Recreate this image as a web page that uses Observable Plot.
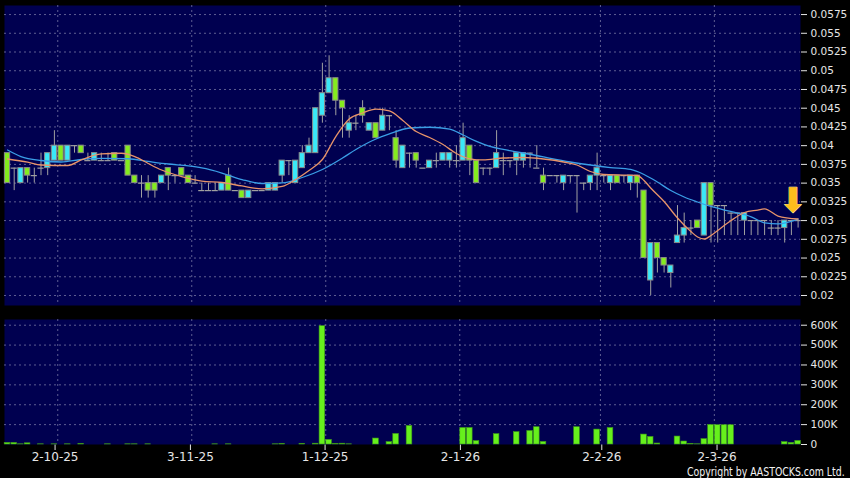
<!DOCTYPE html>
<html><head><meta charset="utf-8">
<script src="https://cdn.jsdelivr.net/npm/d3@7"></script>
<script src="https://cdn.jsdelivr.net/npm/@observablehq/plot@0.6"></script>
<style>
html,body{margin:0;padding:0;background:#000;}
#wrap{position:relative;width:850px;height:478px;background:#000;overflow:hidden;font-family:"DejaVu Sans",sans-serif;}
#price{position:absolute;left:0;top:0;}
#vol{position:absolute;left:0;top:310px;}
#copy{position:absolute;left:687px;top:466px;font-size:12px;line-height:12px;color:#f2f2f2;white-space:nowrap;transform:scaleX(0.78);transform-origin:0 0;}
</style></head>
<body><div id="wrap"><div id="price"></div><div id="vol"></div><div id="copy">Copyright by AASTOCKS.com Ltd.</div></div>
<script>
// ---- data (trading-day index 0..118) ----
const open = [0.039,0.037,0.035,0.037,0.036,0.037,0.037,0.038,0.040,0.038,
0.040,0.040,0.038,0.038,0.038,0.038,0.039,0.038,0.040,0.036,
0.035,0.035,0.035,0.035,0.037,0.036,0.037,0.036,0.035,0.034,
0.034,0.034,0.034,0.036,0.034,0.034,0.033,0.034,0.034,0.034,
0.034,0.036,0.038,0.035,0.037,0.039,0.039,0.044,0.047,0.049,
0.046,0.042,0.043,0.045,0.042,0.043,0.042,0.044,0.041,0.037,
0.039,0.039,0.037,0.037,0.038,0.038,0.038,0.038,0.038,0.040,
0.038,0.037,0.037,0.037,0.038,0.038,0.038,0.038,0.039,0.037,
0.036,0.036,0.036,0.035,0.036,0.036,0.035,0.035,0.036,0.036,
0.035,0.036,0.036,0.035,0.036,0.034,0.022,0.027,0.025,0.023,
0.027,0.028,0.029,0.030,0.028,0.035,0.032,0.032,0.031,0.031,
0.030,0.030,0.030,0.030,0.029,0.029,0.029,0.030,0.030];
const high = [0.039,0.037,0.037,0.037,0.037,0.039,0.039,0.042,0.040,0.040,
0.040,0.040,0.039,0.039,0.039,0.039,0.039,0.038,0.040,0.036,
0.036,0.036,0.035,0.036,0.037,0.036,0.037,0.036,0.036,0.035,
0.035,0.035,0.035,0.037,0.034,0.034,0.034,0.034,0.034,0.035,
0.035,0.038,0.038,0.038,0.040,0.041,0.045,0.051,0.052,0.049,
0.046,0.044,0.044,0.046,0.043,0.043,0.045,0.044,0.042,0.040,
0.039,0.039,0.037,0.038,0.039,0.039,0.039,0.040,0.043,0.040,
0.038,0.037,0.037,0.042,0.039,0.038,0.039,0.039,0.039,0.040,
0.037,0.036,0.036,0.036,0.036,0.036,0.035,0.036,0.039,0.036,
0.036,0.036,0.036,0.036,0.036,0.034,0.027,0.027,0.025,0.024,
0.032,0.031,0.030,0.030,0.035,0.035,0.032,0.032,0.031,0.031,
0.031,0.030,0.030,0.030,0.030,0.030,0.030,0.030,0.030];
const low = [0.035,0.034,0.035,0.035,0.035,0.036,0.036,0.038,0.038,0.038,
0.039,0.039,0.038,0.038,0.038,0.038,0.038,0.038,0.036,0.035,
0.033,0.033,0.033,0.035,0.034,0.035,0.036,0.035,0.035,0.034,
0.034,0.034,0.034,0.034,0.034,0.033,0.033,0.034,0.034,0.034,
0.034,0.035,0.036,0.035,0.037,0.039,0.039,0.043,0.047,0.044,
0.041,0.041,0.042,0.043,0.042,0.041,0.042,0.042,0.037,0.037,
0.037,0.037,0.037,0.037,0.037,0.038,0.037,0.037,0.038,0.036,
0.035,0.036,0.036,0.037,0.036,0.037,0.036,0.037,0.037,0.037,
0.034,0.036,0.035,0.034,0.035,0.031,0.034,0.034,0.034,0.035,
0.034,0.035,0.035,0.034,0.033,0.025,0.020,0.023,0.023,0.021,
0.027,0.027,0.028,0.029,0.028,0.027,0.027,0.028,0.028,0.028,
0.028,0.028,0.028,0.028,0.028,0.028,0.027,0.028,0.029];
const close = [0.035,0.037,0.037,0.036,0.036,0.037,0.039,0.040,0.038,0.040,
0.040,0.039,0.038,0.039,0.038,0.038,0.038,0.038,0.036,0.035,
0.035,0.034,0.034,0.036,0.036,0.036,0.036,0.035,0.035,0.034,
0.034,0.034,0.035,0.034,0.034,0.033,0.034,0.034,0.034,0.035,
0.035,0.038,0.038,0.038,0.039,0.040,0.045,0.047,0.049,0.046,
0.045,0.043,0.043,0.044,0.043,0.041,0.044,0.044,0.038,0.040,
0.039,0.038,0.037,0.038,0.038,0.039,0.039,0.038,0.041,0.038,
0.035,0.037,0.037,0.039,0.038,0.038,0.039,0.039,0.039,0.037,
0.035,0.036,0.036,0.036,0.036,0.036,0.035,0.036,0.037,0.036,
0.036,0.035,0.036,0.036,0.035,0.025,0.027,0.025,0.024,0.024,
0.028,0.029,0.029,0.029,0.035,0.032,0.032,0.032,0.031,0.031,
0.031,0.030,0.030,0.030,0.029,0.029,0.030,0.030,0.030];
// volume in thousands of shares
const volumeK = [8,8,1,6,0,1,0,1,0,1,
0,2,0,0,0,1,0,0,1,1,
0,1,0,0,0,0,0,0,0,0,
0,1,0,1,0,0,0,0,0,0,
1,2,0,0,3,0,4,595,23,2,
4,1,0,0,0,30,0,12,53,0,
93,0,0,0,0,0,0,0,83,83,
17,0,0,52,0,0,62,0,68,87,
13,0,0,0,0,87,0,0,75,0,
83,0,0,0,0,50,38,5,0,0,
40,15,3,1,27,98,97,97,97,0,
0,0,0,0,0,0,12,8,18];
// moving averages (index, value)
const ma10Idx = [0,3,5,9,11,14,17,19,21,23,26,29,32,35,38,41,43,45,47,49,51,53,55,57,59,61,63,65,67,69,71,74,77,80,83,85,87,89,92,94,95,96,98,100,102,103,104,105,106,108,110,112,113,115,118];
const ma10Val = [0.03822,0.03779,0.03742,0.03735,0.03809,0.03889,0.03899,0.03855,0.03762,0.03675,0.03588,0.03528,0.03508,0.03462,0.03424,0.03455,0.03548,0.03668,0.03815,0.04122,0.04356,0.04436,0.04487,0.04463,0.04336,0.04189,0.04109,0.04015,0.03895,0.03825,0.03809,0.03835,0.03842,0.03822,0.03782,0.03742,0.03655,0.03615,0.03608,0.03602,0.03535,0.03435,0.03255,0.03034,0.02854,0.02781,0.02754,0.02801,0.02868,0.03001,0.03108,0.03141,0.03157,0.03061,0.03021];
const ma20Idx = [0,2,5,8,11,14,18,21,24,27,29,32,35,38,41,44,47,50,52,55,57,60,63,66,68,70,72,74,77,80,84,87,90,93,95,97,99,101,103,105,107,109,111,113,115,118];
const ma20Val = [0.03942,0.03855,0.03802,0.03782,0.03815,0.03829,0.03825,0.03789,0.03755,0.03729,0.03702,0.03635,0.03548,0.03495,0.03502,0.03575,0.03682,0.03835,0.03949,0.04089,0.04156,0.04236,0.04246,0.04222,0.04142,0.04056,0.03989,0.03949,0.03902,0.03849,0.03782,0.03742,0.03708,0.03682,0.03615,0.03515,0.03401,0.03315,0.03248,0.03188,0.03141,0.03101,0.0305,0.0297,0.02957,0.0302];
// axis data
const priceTicks = [0.02,0.0225,0.025,0.0275,0.03,0.0325,0.035,0.0375,0.04,0.0425,0.045,0.0475,0.05,0.0525,0.055,0.0575];
const volTicks = [0,100000,200000,300000,400000,500000,600000];
const dateTickPos = [7.1,27.3,47.4,67.6,88.7,105.9];
const dateTickLabels = ["2-10-25","3-11-25","1-12-25","2-1-26","2-2-26","2-3-26"];
const dateGridPos = [7.5,27.5,47.5,67.5,88.5,105.5];

// ---- build ----
const candles = close.map((c,i)=>({i, open:open[i], high:high[i], low:low[i], close:c, vol:volumeK[i]*1000}));
const bodies = candles.filter(d=>d.open!==d.close);
const dojis = candles.filter(d=>d.open===d.close);
const ma10 = ma10Idx.map((x,k)=>({x, y:ma10Val[k]}));
const ma20 = ma20Idx.map((x,k)=>({x, y:ma20Val[k]}));

const NAVY = "#000050", GRID = "#5e5e92", GREY = "#a0a0a0";
const CYAN = "#3ae8f8", GREEN = "#84ec1e", VOLG = "#66f01c";
const xDomain = [-0.448, 118.358];

const price = Plot.plot({
  width: 850, height: 310,
  marginLeft: 4, marginRight: 50, marginTop: 5, marginBottom: 5,
  style: {background: "transparent", color: "#e6e6e6", fontFamily: "DejaVu Sans", fontSize: "10.5px"},
  x: {domain: xDomain, axis: null},
  y: {domain: [0.018665, 0.058708], axis: "right", ticks: priceTicks, tickSize: 6, tickPadding: 4,
      tickFormat: d => String(+d.toFixed(4)), label: null},
  marks: [
    Plot.frame({fill: NAVY, stroke: null}),
    Plot.ruleY(priceTicks, {stroke: GRID, strokeDasharray: "2,3", strokeWidth: 1}),
    Plot.ruleX(dateGridPos, {stroke: GRID, strokeDasharray: "2,3", strokeWidth: 1}),
    Plot.ruleX(candles, {x: "i", y1: "low", y2: "high", stroke: GREY, strokeWidth: 1}),
    Plot.ruleY(dojis, {y: "close", x1: d => d.i - 0.46, x2: d => d.i + 0.46, stroke: GREY, strokeWidth: 1.2}),
    Plot.rect(bodies, {x1: d => d.i - 0.39, x2: d => d.i + 0.39, y1: "open", y2: "close",
      fill: d => d.close > d.open ? CYAN : GREEN, stroke: "#8a8a8a", strokeWidth: 1}),
    Plot.line(ma20, {x: "x", y: "y", stroke: "#3a9ee6", strokeWidth: 1.3, curve: "monotone-x"}),
    Plot.line(ma10, {x: "x", y: "y", stroke: "#e8946a", strokeWidth: 1.3, curve: "monotone-x"}),
    Plot.text([candles[candles.length-1]], {x: "i", y: "close", text: () => "\u2B07", fontSize: 34,
      dy: -19, dx: -5, fill: "#ffbd1c", stroke: "#fff0a0", strokeWidth: 0.8})
  ]
});
document.getElementById("price").appendChild(price);

const vol = Plot.plot({
  width: 850, height: 168,
  marginLeft: 4, marginRight: 50, marginTop: 9, marginBottom: 34,
  style: {background: "transparent", color: "#e6e6e6", fontFamily: "DejaVu Sans", fontSize: "12px"},
  x: {domain: xDomain, axis: "bottom", ticks: dateTickPos, tickSize: 6, tickPadding: 2,
      tickFormat: d => dateTickLabels[dateTickPos.indexOf(d)], label: null},
  y: {domain: [0, 628700], axis: "right", ticks: volTicks, tickSize: 6, tickPadding: 4,
      tickFormat: d => d === 0 ? "0" : (d/1000) + "K", label: null},
  marks: [
    Plot.frame({fill: NAVY, stroke: null}),
    Plot.ruleY(volTicks.filter(v=>v>0), {stroke: GRID, strokeDasharray: "2,3", strokeWidth: 1}),
    Plot.ruleX(dateGridPos, {stroke: GRID, strokeDasharray: "2,3", strokeWidth: 1}),
    Plot.rect(candles.filter(d=>d.vol>0), {x1: d => d.i - 0.42, x2: d => d.i + 0.42, y1: 0, y2: "vol",
      fill: VOLG, stroke: "#3f9a18", strokeWidth: 0.6})
  ]
});
document.getElementById("vol").appendChild(vol);
d3.select(vol).selectAll('g[aria-label^="y-axis"]').style("font-size", "10.5px");
</script>
</body></html>
